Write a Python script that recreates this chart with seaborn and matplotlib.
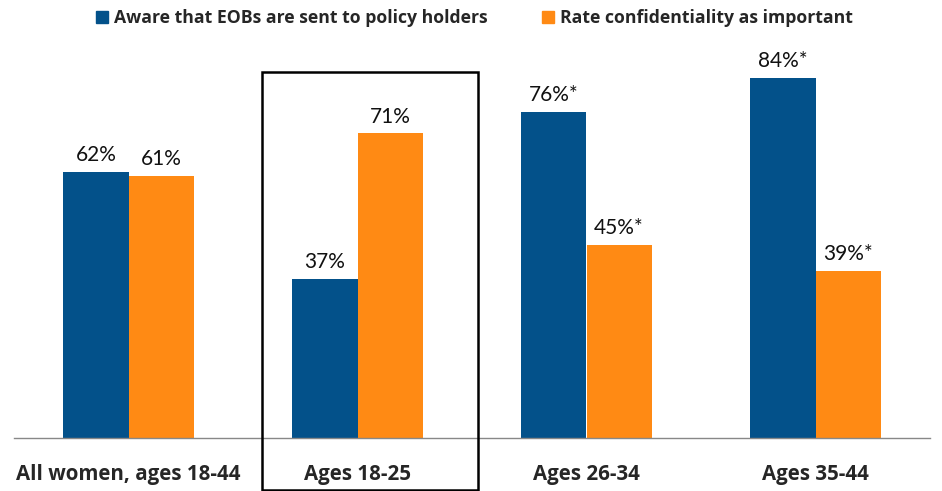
import pandas as pd
import seaborn as sns
import matplotlib.pyplot as plt
from matplotlib.patches import Rectangle
from matplotlib.lines import Line2D

# data
groups = ['All women, ages 18-44', 'Ages 18-25', 'Ages 26-34', 'Ages 35-44']
series = ['Aware that EOBs are sent to policy holders', 'Rate confidentiality as important']
aware = [62, 37, 76, 84]
confid = [61, 71, 45, 39]
aware_labels = ['62%', '37%', '76%*', '84%*']
confid_labels = ['61%', '71%', '45%*', '39%*']
colors = ['#03518A', '#FF8A14']

df = pd.DataFrame({
    'group': groups * 2,
    'series': [series[0]] * 4 + [series[1]] * 4,
    'value': aware + confid,
})

sns.set_style('white')
plt.rcParams['font.family'] = ['Open Sans', 'DejaVu Sans']

fig = plt.figure(figsize=(9.42, 4.91), dpi=100)
ax = fig.add_axes([14 / 942, 53 / 491, 916 / 942, 398 / 491])

sns.barplot(data=df, x='group', y='value', hue='series', order=groups,
            hue_order=series, palette=colors, width=0.57, saturation=1,
            linewidth=0, legend=False, ax=ax)

ax.set_xlim(-0.5, 3.5)
ax.set_ylim(0, 92.8)
ax.set_xlabel('')
ax.set_ylabel('')
ax.set_yticks([])
for s in ['top', 'right', 'left']:
    ax.spines[s].set_visible(False)
ax.spines['bottom'].set_color('#888888')
ax.spines['bottom'].set_linewidth(1)
ax.tick_params(axis='x', length=0, pad=19)
for lbl in ax.get_xticklabels():
    lbl.set_fontweight('bold')
    lbl.set_fontsize(14.8)

# 수치 표시
for cont, labs in zip(ax.containers, [aware_labels, confid_labels]):
    ax.bar_label(cont, labels=labs, padding=5, fontsize=15, color='#111111',
                 family=['Lato', 'DejaVu Sans'])

# box around the 18-25 group
fig.patches.append(Rectangle((262 / 942, 1.5 / 491), 216 / 942, 418 / 491,
                             transform=fig.transFigure, fill=False,
                             edgecolor='black', linewidth=1.8))

# legend
handles = [Line2D([], [], marker='s', linestyle='none', markersize=9,
                  markerfacecolor=c, markeredgecolor=c) for c in colors]
fig.legend(handles, series, loc='center', bbox_to_anchor=(0.503, 0.963),
           ncol=2, frameon=False, handlelength=0.8, handletextpad=0.3,
           columnspacing=3.0, borderpad=0, borderaxespad=0,
           prop={'weight': 'bold', 'size': 12.7})

plt.savefig('out.png', dpi=100)
